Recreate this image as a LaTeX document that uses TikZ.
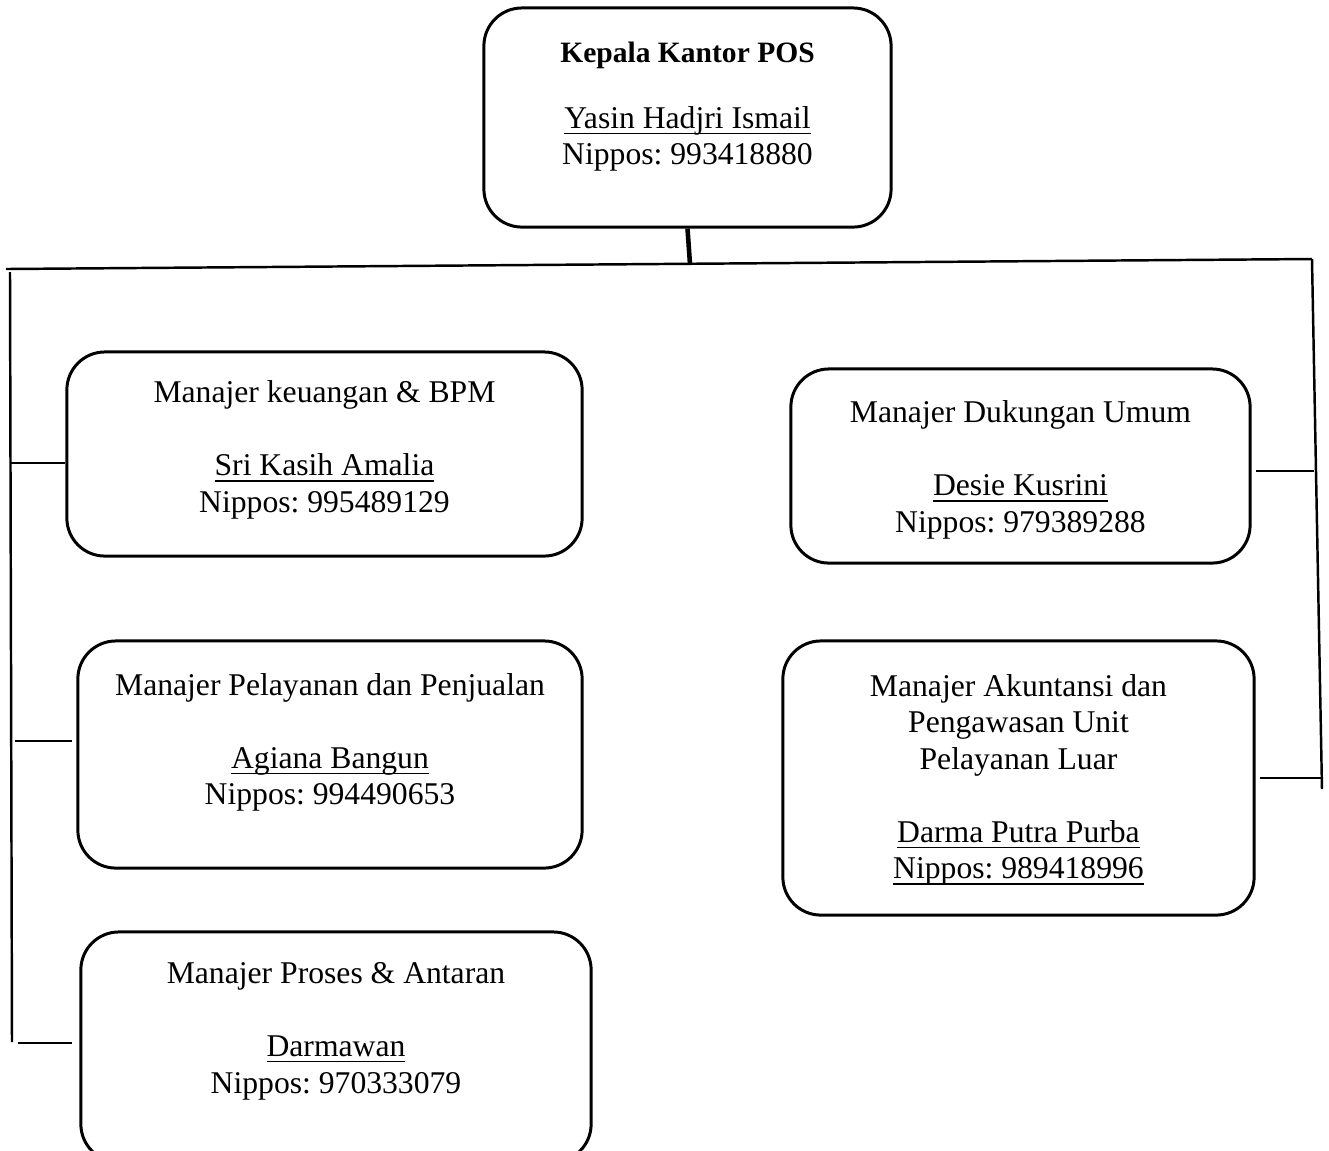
\documentclass[tikz,border=0pt]{standalone}
\usepackage{fontspec}
\setmainfont{Liberation Serif}
\usetikzlibrary{positioning}
\frenchspacing
\newcommand{\nameline}[1]{\underline{\smash{#1}}\vphantom{#1}}
\tikzset{
    unitbox/.style={draw, line width=0.85pt, rounded corners=0.38cm, inner sep=0pt},
    unittext/.style={align=center, inner sep=0pt, font=\fontsize{9}{10.4}\selectfont},
    spine/.style={line width=0.7pt},
    tick/.style={line width=0.5pt}
}
\begin{document}
\begin{tikzpicture}[x=0.01cm, y=-0.01cm]
        \useasboundingbox (0,0) rectangle (1329,1150);
        % boxes
        \node[unitbox, minimum width=4.07cm, minimum height=2.19cm] (kepala) at (687.5,117.5) {};
        \node[unitbox, minimum width=5.15cm, minimum height=2.04cm] (keuangan) at (324.5,454) {};
        \node[unitbox, minimum width=5.04cm, minimum height=2.27cm] (pelayanan) at (330,754.5) {};
        \node[unitbox, minimum width=5.10cm, minimum height=2.30cm] (proses) at (336,1047) {};
        \node[unitbox, minimum width=4.59cm, minimum height=1.94cm] (dukungan) at (1020.5,466) {};
        \node[unitbox, minimum width=4.71cm, minimum height=2.74cm] (akuntansi) at (1018.5,778) {};
        % texts
        \node[unittext] (kepalatxt) at ([yshift=0.105cm]kepala.center)
            {{\bfseries\fontsize{8.4}{10}\selectfont Kepala Kantor POS}\\[0.29cm]\nameline{Yasin Hadjri Ismail}\\Nippos: 993418880};
        \node[unittext] (keuangantxt) at ([yshift=0.04cm]keuangan.center)
            {Manajer keuangan \& BPM\\[0.365cm]\nameline{Sri Kasih Amalia}\\Nippos: 995489129};
        \node[unittext] (pelayanantxt) at ([yshift=0.12cm]pelayanan.center)
            {Manajer Pelayanan dan Penjualan\\[0.365cm]\nameline{Agiana Bangun}\\Nippos: 994490653};
        \node[unittext] (prosestxt) at ([yshift=0.16cm]proses.center)
            {Manajer Proses \& Antaran\\[0.365cm]\nameline{Darmawan}\\Nippos: 970333079};
        \node[unittext] (dukungantxt) at ([yshift=-0.04cm]dukungan.center)
            {Manajer Dukungan Umum\\[0.365cm]\nameline{Desie Kusrini}\\Nippos: 979389288};
        \node[unittext] (akuntansitxt) at ([yshift=-0.02cm]akuntansi.center)
            {Manajer Akuntansi dan\\Pengawasan Unit\\Pelayanan Luar\\[0.365cm]\nameline{Darma Putra Purba}\\\nameline{Nippos: 989418996}};
        % bus
        \coordinate (busL) at (6,269);
        \coordinate (busM) at (690,264);
        \coordinate (busR) at (1312,259);
        \draw[line width=1.3pt] (kepala.south) -- (busM);
        \draw[spine] (busL) -- (busR);
        % left side
        \coordinate (leftTop) at (10,272);
        \coordinate (leftBot) at (12,1042);
        \draw[spine] (leftTop) -- (leftBot);
        \coordinate (tickK) at (11,463);
        \coordinate (tickP) at (15,741);
        \coordinate (tickA) at (18,1043);
        \foreach \t/\b/\g in {tickK/keuangan/0, tickP/pelayanan/0.04, tickA/proses/0.07}
            {
                \draw[tick, shorten >=\g cm] (\t) -- (\t -| \b.west);
            }
        % right side
        \coordinate (rightBot) at (1322,789);
        \draw[spine] (busR) -- (rightBot);
        \coordinate (tickD) at (1314,471);
        \coordinate (tickL) at (1322,778);
        \foreach \t/\b in {tickD/dukungan, tickL/akuntansi}
            {
                \draw[tick, shorten >=0.04cm] (\t) -- (\t -| \b.east);
            }
\end{tikzpicture}
\end{document}
